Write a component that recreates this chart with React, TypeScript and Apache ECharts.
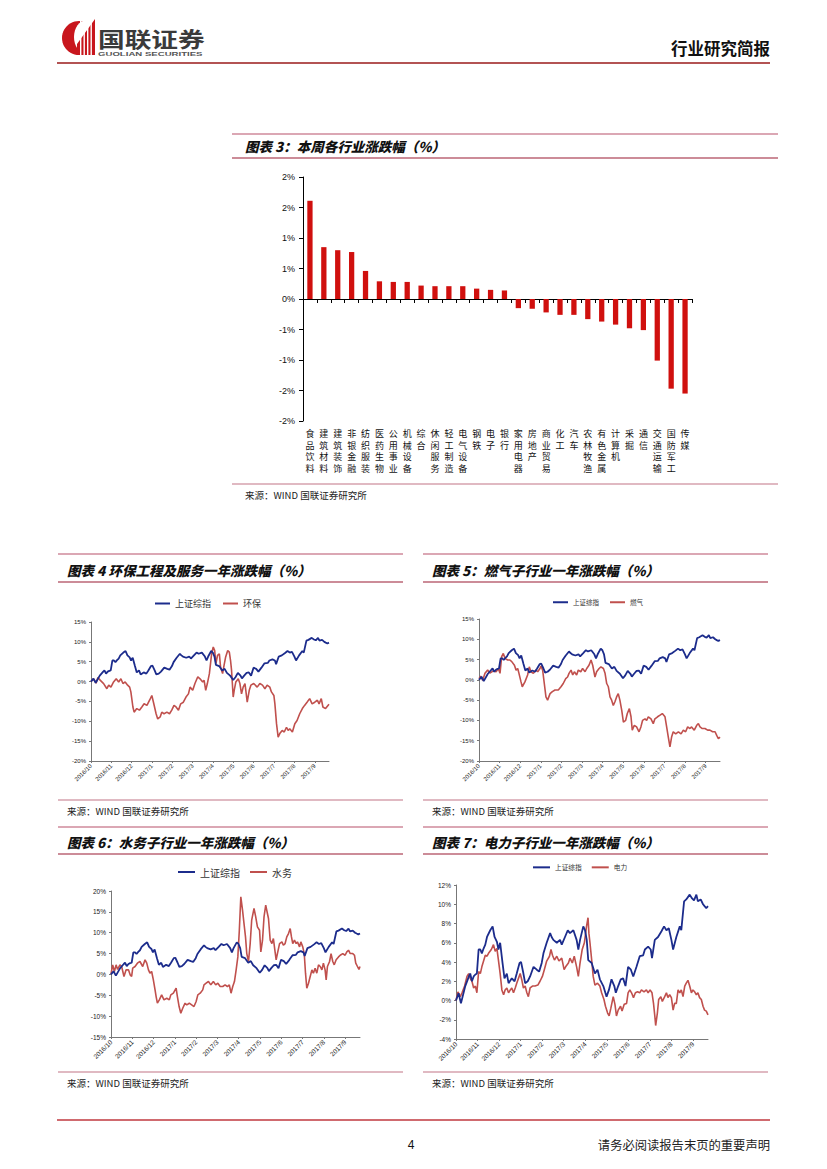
import React, { useEffect, useRef } from "react";
import * as echarts from "echarts";

// ---------- DATA ----------
const industries = [
  "食品饮料", "建筑材料", "建筑装饰", "非银金融", "纺织服装", "医药生物", "公用事业",
  "机械设备", "综合", "休闲服务", "轻工制造", "电气设备", "钢铁", "电子", "银行",
  "家用电器", "房地产", "商业贸易", "化工", "汽车", "农林牧渔", "有色金属", "计算机",
  "采掘", "通信", "交通运输", "国防军工", "传媒",
];
const weeklyChange = [
  1.61, 0.85, 0.8, 0.77, 0.46, 0.29, 0.28, 0.28, 0.22, 0.21, 0.21, 0.21, 0.17, 0.15, 0.14,
  -0.15, -0.16, -0.22, -0.26, -0.26, -0.33, -0.37, -0.42, -0.48, -0.51, -1.01, -1.47, -1.55,
];

const monthLabels = [
  "2016/10", "2016/11", "2016/12", "2017/1", "2017/2", "2017/3",
  "2017/4", "2017/5", "2017/6", "2017/7", "2017/8", "2017/9",
];

// [months since 2016/10, % change]
const shIndex = [
  [0, 0], [0.12, 0.76], [0.23, -0.3], [0.43, 1.5], [0.6, 2.5], [0.66, 2.8], [0.74, 2.0], [0.82, 2.5],
  [0.9, 2.7], [0.97, 2.8], [1.05, 5.3], [1.13, 5.3], [1.2, 4.9], [1.28, 5.4], [1.36, 5.8], [1.44, 6.6],
  [1.59, 7.3], [1.7, 7.7], [1.79, 6.6], [1.9, 6.1], [1.97, 5.3], [2.05, 6.0], [2.16, 3.9], [2.25, 2.3],
  [2.36, 2.8], [2.44, 1.8], [2.59, 2.3], [2.72, 2.0], [2.82, 2.8], [2.95, 3.9], [3.02, 4.0], [3.13, 2.8],
  [3.21, 1.8], [3.33, 2.0], [3.44, 2.5], [3.6, 3.5], [3.75, 3.2], [3.86, 3.0], [3.98, 3.9], [4.06, 4.9],
  [4.21, 6.0], [4.37, 7.0], [4.44, 6.6], [4.52, 6.3], [4.68, 6.0], [4.83, 6.3], [4.91, 5.8], [5.06, 6.6],
  [5.19, 7.3], [5.29, 7.0], [5.45, 7.3], [5.6, 6.3], [5.68, 5.3], [5.76, 6.3], [5.91, 7.7], [5.99, 7.3],
  [6.07, 6.3], [6.14, 4.2], [6.3, 3.9], [6.45, 2.8], [6.57, 3.2], [6.68, 2.2], [6.84, 1.5], [6.99, 0.4],
  [7.1, 1.1], [7.22, 2.2], [7.35, 1.5], [7.42, 0.8], [7.53, 1.5], [7.65, 2.2], [7.76, 2.3], [7.87, 1.5],
  [7.99, 3.5], [8.12, 3.2], [8.23, 2.5], [8.38, 3.5], [8.53, 4.6], [8.69, 4.7], [8.77, 5.3], [8.92, 5.6],
  [9.04, 5.3], [9.1, 4.4], [9.23, 6.3], [9.38, 6.6], [9.54, 7.2], [9.66, 7.7], [9.77, 7.3], [9.88, 7.5],
  [10.0, 6.3], [10.08, 5.3], [10.23, 6.6], [10.39, 7.7], [10.46, 7.3], [10.59, 10.3], [10.69, 10.5],
  [10.85, 11.0], [10.96, 10.6], [11.05, 10.4], [11.16, 11.0], [11.23, 10.3], [11.36, 10.5], [11.47, 10.0],
  [11.54, 9.8], [11.62, 9.6], [11.7, 9.8],
];

const envProtection = [
  [0, 0], [0.13, 0.7], [0.25, -0.4], [0.34, 1.0], [0.46, 0.3], [0.62, -0.5], [0.78, -1.8], [0.87, -0.9],
  [0.98, -1.4], [1.11, -0.1], [1.24, 0.7], [1.36, -0.1], [1.47, 0.7], [1.57, -0.5], [1.68, -0.1], [1.8, -0.9],
  [1.9, -1.4], [1.96, -2.6], [2.06, -6.4], [2.12, -7.7], [2.25, -6.8], [2.38, -7.2], [2.5, -6.4], [2.61, -5.6],
  [2.75, -6.0], [2.88, -4.7], [2.99, -3.5], [3.07, -5.2], [3.2, -8.1], [3.28, -9.4], [3.4, -8.9], [3.48, -7.7],
  [3.59, -8.1], [3.73, -7.7], [3.86, -8.1], [3.97, -7.2], [4.08, -6.0], [4.18, -6.4], [4.3, -7.2], [4.41, -5.6],
  [4.54, -5.2], [4.67, -3.9], [4.79, -3.1], [4.87, -1.4], [5.0, -2.2], [5.11, -0.5], [5.25, 1.2], [5.36, 0.7],
  [5.49, -0.1], [5.56, 0.3], [5.64, -2.2], [5.72, -0.5], [5.82, 2.0], [5.93, 7.0], [6.01, 8.7], [6.08, 7.8],
  [6.14, 4.5], [6.22, 6.6], [6.31, 7.0], [6.37, 3.6], [6.47, 2.0], [6.54, 4.1], [6.62, 6.2], [6.72, 7.8],
  [6.8, 7.4], [6.86, 5.3], [6.91, 2.8], [6.99, -3.9], [7.04, -2.2], [7.12, -0.1], [7.24, 0.7], [7.32, -0.5],
  [7.4, -3.1], [7.48, -1.4], [7.57, -0.5], [7.68, -5.2], [7.78, -2.2], [7.86, -0.9], [8.0, -0.5], [8.17, -1.4],
  [8.3, -0.5], [8.43, -0.9], [8.55, -1.8], [8.66, -0.9], [8.79, -1.4], [8.87, -2.6], [8.99, -3.5], [9.04, -5.6],
  [9.12, -10.6], [9.2, -14.0], [9.28, -13.1], [9.4, -12.3], [9.5, -12.7], [9.61, -11.5], [9.69, -12.3],
  [9.77, -11.9], [9.9, -12.7], [10.02, -10.6], [10.13, -9.8], [10.26, -8.1], [10.39, -6.8], [10.5, -6.0],
  [10.62, -5.2], [10.75, -4.3], [10.87, -5.6], [11.0, -5.2], [11.13, -4.7], [11.21, -5.6], [11.32, -4.3],
  [11.4, -6.4], [11.53, -6.8], [11.65, -6.0], [11.7, -5.7],
];

const gasUtility = [
  [0, 0.3], [0.08, 0.9], [0.18, -0.1], [0.29, 1.6], [0.42, 2.4], [0.53, 1.7], [0.7, 2.2], [0.83, 2.0],
  [0.94, 2.8], [1.02, 1.6], [1.1, 5.7], [1.18, 6.5], [1.26, 5.3], [1.39, 4.9], [1.5, 4.9], [1.59, 4.5],
  [1.72, 3.6], [1.8, 2.4], [1.88, 2.8], [1.94, 1.6], [2.04, -0.5], [2.1, -1.7], [2.23, -0.5], [2.36, 1.2],
  [2.44, 3.2], [2.52, 2.0], [2.64, 1.6], [2.75, 2.4], [2.85, 2.0], [2.96, 2.8], [3.01, 3.4], [3.09, 2.4],
  [3.17, -0.9], [3.25, -4.2], [3.33, -5.0], [3.45, -3.4], [3.56, -2.9], [3.69, -2.5], [3.85, -2.5],
  [3.98, -1.7], [4.09, -0.9], [4.21, 0.3], [4.3, 0.7], [4.37, 1.6], [4.47, 2.4], [4.55, 1.2], [4.63, 2.0],
  [4.74, 1.2], [4.82, 2.4], [4.94, 2.0], [5.03, 2.8], [5.15, 2.0], [5.23, 2.8], [5.34, 3.6], [5.44, 4.9],
  [5.52, 3.6], [5.63, 0.7], [5.71, 2.0], [5.83, 2.8], [5.92, 3.2], [6.04, 2.8], [6.12, 1.6], [6.2, -0.9],
  [6.28, -1.7], [6.36, -4.2], [6.44, -5.0], [6.52, -6.3], [6.6, -5.4], [6.68, -4.2], [6.76, -3.4],
  [6.84, -5.0], [6.93, -7.5], [7.01, -10.4], [7.12, -10.0], [7.2, -8.3], [7.3, -7.1], [7.38, -9.1],
  [7.44, -12.4], [7.54, -11.2], [7.65, -11.6], [7.77, -12.8], [7.86, -11.6], [7.94, -10.0], [8.06, -9.6],
  [8.14, -10.0], [8.22, -9.1], [8.35, -9.6], [8.46, -10.8], [8.54, -9.6], [8.67, -9.1], [8.79, -8.7],
  [8.9, -8.3], [9.03, -9.1], [9.11, -11.6], [9.19, -14.1], [9.27, -16.5], [9.35, -14.1], [9.43, -12.8],
  [9.55, -13.3], [9.68, -12.8], [9.81, -13.3], [9.92, -12.4], [10.03, -12.8], [10.13, -11.6], [10.24, -12.0],
  [10.32, -11.6], [10.45, -12.4], [10.57, -11.2], [10.65, -10.8], [10.73, -11.6], [10.84, -12.0],
  [10.97, -12.0], [11.1, -12.4], [11.21, -12.4], [11.34, -12.8], [11.46, -12.8], [11.54, -13.7],
  [11.62, -14.5], [11.7, -14.1],
];

const waterUtility = [
  [0, 0.1], [0.08, 2.3], [0.16, 0.7], [0.24, 2.3], [0.31, 1.2], [0.42, 2.3], [0.5, 1.9], [0.61, -0.5],
  [0.71, 1.1], [0.82, 1.1], [0.9, -0.1], [0.97, -0.5], [1.02, 1.5], [1.13, 1.9], [1.24, 2.7], [1.36, 3.1],
  [1.49, 1.9], [1.6, 3.5], [1.68, 2.7], [1.76, 1.1], [1.83, 0.3], [1.91, 0.7], [1.99, -1.3], [2.07, -3.7],
  [2.12, -5.3], [2.18, -6.9], [2.27, -6.1], [2.38, -4.9], [2.49, -6.1], [2.62, -5.7], [2.74, -6.1],
  [2.81, -4.9], [2.93, -4.5], [3.06, -3.3], [3.12, -5.3], [3.2, -7.7], [3.28, -9.3], [3.37, -8.1],
  [3.48, -6.9], [3.56, -7.3], [3.68, -6.9], [3.79, -7.3], [3.9, -7.7], [4.0, -6.5], [4.08, -4.9],
  [4.19, -4.5], [4.31, -3.7], [4.37, -2.5], [4.47, -2.1], [4.58, -1.7], [4.69, -2.5], [4.81, -1.7],
  [4.92, -2.5], [5.02, -2.1], [5.13, -2.9], [5.25, -2.9], [5.36, -2.5], [5.47, -2.9], [5.56, -2.5],
  [5.64, -4.5], [5.72, -2.9], [5.8, -1.7], [5.88, 1.1], [5.96, 4.2], [6.03, 10.6], [6.1, 18.6], [6.18, 15.4],
  [6.25, 12.2], [6.32, 9.0], [6.38, 5.0], [6.46, 3.1], [6.54, 7.4], [6.61, 13.0], [6.72, 15.8], [6.8, 13.8],
  [6.88, 11.4], [6.98, 10.6], [7.04, 5.4], [7.12, 8.2], [7.19, 13.8], [7.27, 16.6], [7.35, 14.6],
  [7.4, 13.4], [7.48, 8.2], [7.56, 7.4], [7.63, 8.6], [7.71, 5.4], [7.76, 3.5], [7.82, 5.0], [7.92, 7.4],
  [8.03, 7.8], [8.1, 7.0], [8.18, 7.4], [8.26, 9.0], [8.34, 9.8], [8.42, 11.0], [8.48, 9.0], [8.54, 7.4],
  [8.62, 8.2], [8.7, 7.4], [8.76, 7.8], [8.86, 6.6], [8.92, 7.8], [9.01, 6.6], [9.08, 5.0], [9.14, 0.3],
  [9.2, -3.3], [9.28, -2.1], [9.36, -0.5], [9.44, 1.1], [9.51, 0.3], [9.59, 1.5], [9.67, 0.3], [9.75, 2.3],
  [9.83, 1.9], [9.91, 1.1], [9.98, 2.7], [10.06, 1.1], [10.11, -1.3], [10.17, 1.9], [10.27, 3.1],
  [10.34, 5.0], [10.42, 3.1], [10.49, 2.3], [10.58, 3.5], [10.69, 4.2], [10.77, 4.6], [10.89, 5.0],
  [11.0, 4.6], [11.08, 5.4], [11.16, 5.8], [11.24, 5.0], [11.36, 5.0], [11.44, 4.6], [11.5, 2.7],
  [11.58, 1.9], [11.65, 1.2], [11.7, 1.9],
];

const powerUtility = [
  [0, 0], [0.09, 0.9], [0.2, 0.4], [0.28, 0.8], [0.4, 1.5], [0.51, 2.5], [0.59, 2.8], [0.66, 2.3],
  [0.74, 2.0], [0.82, 1.3], [0.9, 1.5], [0.97, 0.8], [1.05, 3.0], [1.13, 2.8], [1.2, 3.5], [1.28, 4.1],
  [1.36, 4.7], [1.44, 4.6], [1.51, 4.9], [1.64, 5.3], [1.74, 5.8], [1.82, 5.1], [1.9, 5.4], [1.97, 4.2],
  [2.05, 2.8], [2.13, 1.1], [2.21, 0.6], [2.28, 1.1], [2.36, 1.3], [2.44, 0.8], [2.52, 1.1], [2.59, 1.3],
  [2.67, 0.8], [2.75, 1.3], [2.82, 1.8], [2.9, 2.3], [2.98, 2.8], [3.06, 2.1], [3.13, 1.3], [3.21, 1.5],
  [3.29, 0.8], [3.36, 0.4], [3.44, 1.3], [3.55, 1.5], [3.67, 1.5], [3.8, 1.6], [3.9, 2.0], [4.01, 2.5],
  [4.1, 3.2], [4.21, 4.1], [4.34, 4.6], [4.41, 5.3], [4.48, 4.7], [4.57, 4.2], [4.68, 4.6], [4.78, 4.1],
  [4.91, 4.4], [5.02, 3.2], [5.09, 3.5], [5.22, 3.9], [5.29, 4.4], [5.4, 3.9], [5.49, 4.6], [5.6, 3.5],
  [5.68, 2.5], [5.76, 3.9], [5.86, 5.3], [5.96, 6.0], [6.06, 7.7], [6.13, 8.6], [6.17, 7.0], [6.22, 6.0],
  [6.3, 4.2], [6.37, 2.5], [6.45, 1.6], [6.57, 1.8], [6.68, 1.5], [6.76, 0.8], [6.87, 0.1], [6.94, -0.6],
  [7.04, -1.3], [7.11, -1.6], [7.19, -0.8], [7.3, 0.4], [7.38, -0.4], [7.45, -1.6], [7.53, -1.0],
  [7.64, -0.6], [7.71, -1.1], [7.81, -0.4], [7.92, -0.3], [7.99, 0.8], [8.07, 1.1], [8.15, 0.8],
  [8.24, 0.3], [8.33, 0.8], [8.43, 0.9], [8.53, 0.8], [8.61, 1.1], [8.73, 0.9], [8.84, 1.1], [8.92, 0.8],
  [9.01, 1.1], [9.1, 0.8], [9.17, -0.3], [9.23, -1.6], [9.27, -2.6], [9.35, -1.3], [9.41, 0.1], [9.51, 0.4],
  [9.58, -0.1], [9.69, 0.4], [9.77, 0.8], [9.84, 0.3], [9.92, 0.6], [10.0, 0.3], [10.08, -1.0],
  [10.15, -0.3], [10.23, -0.3], [10.31, 1.1], [10.39, 0.8], [10.46, 1.1], [10.54, 0.4], [10.62, 1.5],
  [10.69, 1.8], [10.77, 2.1], [10.85, 1.5], [10.93, 0.8], [11.0, 1.1], [11.08, 0.9], [11.16, 0.6],
  [11.23, 0.8], [11.31, 0.3], [11.39, 0.1], [11.47, -0.6], [11.54, -1.0], [11.62, -1.1], [11.7, -1.5],
];

// ---------- STYLE ----------
const CJK = '"Noto Sans CJK SC", "Noto Sans", sans-serif';
const ARIAL = '"Liberation Sans", Arial, sans-serif';
const BLUE = "#1c2c8c";
const RED = "#c0504d";
const BAR_RED = "#d0100e";
const LINE_TOP = "#b8506a";
const LINE_BOT = "#9a1a32";
const LINE_SRC = "#c27486";

type LineCfg = {
  left: number; top: number; width: number; height: number;
  yMin: number; yMax: number; yInt: number;
  name: string; data: number[][];
  legendLeft: number; legendTop: number; legendFont: number; legendGap: number; legendIcon: number;
  axisFont: number;
};

const lineCharts: LineCfg[] = [
  { left: 91, top: 622, width: 238, height: 139, yMin: -20, yMax: 15, yInt: 5, name: "环保", data: envProtection,
    legendLeft: 155, legendTop: 599, legendFont: 9, legendGap: 12, legendIcon: 15, axisFont: 6 },
  { left: 479, top: 619, width: 241, height: 142, yMin: -20, yMax: 15, yInt: 5, name: "燃气", data: gasUtility,
    legendLeft: 553, legendTop: 599, legendFont: 6.5, legendGap: 11, legendIcon: 15, axisFont: 6 },
  { left: 111, top: 891, width: 249, height: 146, yMin: -15, yMax: 20, yInt: 5, name: "水务", data: waterUtility,
    legendLeft: 178, legendTop: 867, legendFont: 10, legendGap: 10, legendIcon: 17, axisFont: 6.5 },
  { left: 456, top: 885, width: 252, height: 154, yMin: -4, yMax: 12, yInt: 2, name: "电力", data: powerUtility,
    legendLeft: 533, legendTop: 864, legendFont: 6.7, legendGap: 10, legendIcon: 17, axisFont: 6.5 },
];

function hline(x1: number, x2: number, y: number, color: string, w: number) {
  return { type: "line", silent: true, shape: { x1, y1: y, x2, y2: y }, style: { stroke: color, lineWidth: w } };
}
function txt(x: number, y: number, text: string, font: number, extra: any = {}, el: any = {}) {
  return {
    type: "text", silent: true, x, y, ...el,
    style: { text, fontSize: font, fontFamily: CJK, fill: "#111", verticalAlign: "middle", align: "left", ...extra },
  };
}
function chartTitle(x: number, y: number, text: string) {
  return txt(x, y, text, 13.5, { fontWeight: 900, fontStyle: "italic", fill: "#111" });
}

export default function App() {
  const ref = useRef<HTMLDivElement>(null);

  useEffect(() => {
    document.body.style.margin = "0";
    if (!ref.current) return;
    const chart = echarts.init(ref.current, null, { renderer: "svg" });

    const grids: any[] = [{ left: 303, top: 177, width: 389, height: 244 }];
    const xAxes: any[] = [{
      type: "category", gridIndex: 0, data: industries,
      axisLine: { onZero: true, lineStyle: { color: "#000", width: 1 } },
      axisTick: { show: true, length: 4, lineStyle: { color: "#000" } },
      axisLabel: {
        interval: 0, margin: 7, fontSize: 9, lineHeight: 11.5, color: "#111", fontFamily: CJK,
        formatter: (v: string) => v.split("").join("\n"),
      },
    }];
    const yAxes: any[] = [{
      type: "value", gridIndex: 0, min: -2, max: 2, interval: 0.5,
      axisLine: { show: true, lineStyle: { color: "#000" } },
      axisTick: { show: true, length: 4, lineStyle: { color: "#000" } },
      splitLine: { show: false },
      axisLabel: {
        fontSize: 9, color: "#111", fontFamily: ARIAL, margin: 8,
        formatter: (v: number) => (v < 0 ? "-" : "") + Math.round(Math.abs(v)) + "%",
      },
    }];
    const series: any[] = [{
      type: "bar", xAxisIndex: 0, yAxisIndex: 0, data: weeklyChange, barWidth: "38%",
      itemStyle: { color: BAR_RED }, silent: true,
    }];
    const legends: any[] = [];

    lineCharts.forEach((c, i) => {
      const gi = i + 1;
      grids.push({ left: c.left, top: c.top, width: c.width, height: c.height });
      xAxes.push({
        type: "value", gridIndex: gi, min: 0, max: 11.7, interval: 1,
        axisLine: { onZero: false, lineStyle: { color: "#777" } },
        axisTick: { show: true, length: 2, lineStyle: { color: "#777" } },
        splitLine: { show: false },
        axisLabel: {
          rotate: 45, fontSize: c.axisFont, color: "#222", fontFamily: ARIAL, margin: 4,
          showMaxLabel: false,
          formatter: (v: number) => (Number.isInteger(v) && monthLabels[v] ? monthLabels[v] : ""),
        },
      });
      yAxes.push({
        type: "value", gridIndex: gi, min: c.yMin, max: c.yMax, interval: c.yInt,
        axisLine: { show: true, lineStyle: { color: "#777" } },
        axisTick: { show: true, length: 2, lineStyle: { color: "#777" } },
        splitLine: { show: false },
        axisLabel: { fontSize: c.axisFont, color: "#222", fontFamily: ARIAL, margin: 5, formatter: (v: number) => v + "%" },
      });
      series.push({
        type: "line", name: "上证综指", xAxisIndex: gi, yAxisIndex: gi, data: shIndex,
        symbol: "none", showSymbol: false, lineStyle: { color: BLUE, width: 1.8 }, itemStyle: { color: BLUE },
        z: 3, silent: true,
      });
      series.push({
        type: "line", name: c.name, xAxisIndex: gi, yAxisIndex: gi, data: c.data,
        symbol: "none", showSymbol: false, lineStyle: { color: RED, width: 1.6 }, itemStyle: { color: RED },
        z: 2, silent: true,
      });
      legends.push({
        left: c.legendLeft, top: c.legendTop, orient: "horizontal", selectedMode: false,
        data: ["上证综指", c.name], icon: "rect", itemWidth: c.legendIcon, itemHeight: 2,
        itemGap: c.legendGap, padding: 0,
        textStyle: { fontSize: c.legendFont, color: "#333", fontFamily: CJK, padding: [0, 0, 0, 0] },
      });
    });

    const graphics: any[] = [
      // header logo
      { type: "circle", silent: true, shape: { cx: 79, cy: 38, r: 17 }, style: { fill: "#c8161d" } },
      { type: "ellipse", silent: true, shape: { cx: 86, cy: 37, rx: 12, ry: 16.5 }, style: { fill: "#fff" } },
      { type: "polygon", silent: true, shape: { points: [[77, 55], [77, 44], [95, 19], [95, 55]] }, style: { fill: "#c8161d" } },
      { type: "rect", silent: true, shape: { x: 80, y: 18, width: 1.4, height: 38 }, style: { fill: "#fff" } },
      { type: "rect", silent: true, shape: { x: 83.5, y: 18, width: 1.4, height: 38 }, style: { fill: "#fff" } },
      { type: "rect", silent: true, shape: { x: 87, y: 18, width: 1.4, height: 38 }, style: { fill: "#fff" } },
      { type: "rect", silent: true, shape: { x: 90.5, y: 18, width: 1.4, height: 38 }, style: { fill: "#fff" } },
      txt(98, 37.5, "国联证券", 21, { fontWeight: "bold", fill: "#3a3a3a" }, { scaleX: 1.27 }),
      txt(98, 54.5, "GUOLIAN SECURITIES", 6, { fontFamily: ARIAL, fontWeight: "bold", fill: "#555" }, { scaleX: 1.6 }),
      txt(770, 48, "行业研究简报", 16.5, { fontWeight: "bold", align: "right", fill: "#111" }),
      hline(57, 770, 63, "#9a1a1a", 1.5),

      // figure 3
      hline(232, 778, 134, LINE_TOP, 1.2),
      hline(232, 778, 158, LINE_BOT, 1.2),
      chartTitle(245, 146, "图表 3：本周各行业涨跌幅（%）"),
      hline(232, 778, 484, LINE_SRC, 1.2),
      txt(245, 495, "来源：WIND 国联证券研究所", 9.5, { fill: "#222" }),

      // figure 4 & 5
      hline(58, 403, 554, LINE_TOP, 1.2),
      hline(58, 403, 582, LINE_BOT, 1.2),
      chartTitle(67, 570, "图表 4 环保工程及服务一年涨跌幅（%）"),
      hline(423, 768, 554, LINE_TOP, 1.2),
      hline(423, 768, 582, LINE_BOT, 1.2),
      chartTitle(432, 570, "图表 5：燃气子行业一年涨跌幅（%）"),
      hline(58, 403, 800, LINE_SRC, 1.2),
      txt(67, 811, "来源：WIND 国联证券研究所", 9.5, { fill: "#222" }),
      hline(423, 768, 800, LINE_SRC, 1.2),
      txt(432, 811, "来源：WIND 国联证券研究所", 9.5, { fill: "#222" }),

      // figure 6 & 7
      hline(58, 403, 827, LINE_TOP, 1.2),
      hline(58, 403, 854, LINE_BOT, 1.2),
      chartTitle(67, 842, "图表 6：水务子行业一年涨跌幅（%）"),
      hline(423, 768, 827, LINE_TOP, 1.2),
      hline(423, 768, 854, LINE_BOT, 1.2),
      chartTitle(432, 842, "图表 7：电力子行业一年涨跌幅（%）"),
      hline(58, 403, 1072, LINE_SRC, 1.2),
      txt(67, 1083, "来源：WIND 国联证券研究所", 9.5, { fill: "#222" }),
      hline(423, 768, 1072, LINE_SRC, 1.2),
      txt(432, 1083, "来源：WIND 国联证券研究所", 9.5, { fill: "#222" }),

      // footer
      hline(57, 770, 1120, "#c0393f", 1.5),
      txt(411, 1145, "4", 12, { fontFamily: ARIAL, fill: "#111", align: "center" }),
      txt(770, 1145, "请务必阅读报告末页的重要声明", 12.3, { align: "right", fill: "#222" }),
    ];

    chart.setOption({
      animation: false,
      backgroundColor: "#fff",
      grid: grids,
      xAxis: xAxes,
      yAxis: yAxes,
      legend: legends,
      series,
      graphic: graphics,
    });

    return () => chart.dispose();
  }, []);

  return (
    <div
      ref={ref}
      style={{ position: "absolute", left: 0, top: 0, width: 827, height: 1169, background: "#fff" }}
    />
  );
}
